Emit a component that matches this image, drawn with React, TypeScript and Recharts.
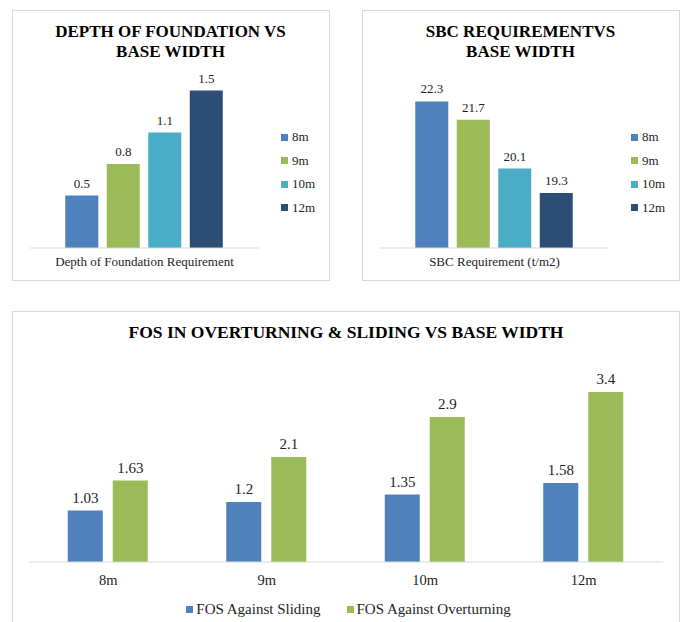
import React from 'react';
import { BarChart, Bar, XAxis, YAxis, LabelList, Legend } from 'recharts';

const sizeSeries = ['8m', '9m', '10m', '12m'];
const depthCategory = ['Depth of Foundation Requirement'];
const depthValues = [0.5, 0.8, 1.1, 1.5];
const sbcCategory = ['SBC Requirement (t/m2)'];
const sbcValues = [22.3, 21.7, 20.1, 19.3];
const fosCategories = ['8m', '9m', '10m', '12m'];
const fosSliding = [1.03, 1.2, 1.35, 1.58];
const fosOverturning = [1.63, 2.1, 2.9, 3.4];
const fosSeriesNames = ['FOS Against Sliding', 'FOS Against Overturning'];
const seriesColors = ['#4f81bd', '#9bbb59', '#4bacc6', '#2c4d75'];

const FONT = '"Liberation Serif"';
const TEXT = '#1e1e1e';
const BORDER = '#d9d9d9';

const buildSingle = (cats: string[], values: number[]) =>
  cats.map((name) => {
    const row: Record<string, any> = { name };
    sizeSeries.forEach((s, i) => {
      row[s] = values[i];
    });
    return row;
  });

const depthData = buildSingle(depthCategory, depthValues);
const sbcData = buildSingle(sbcCategory, sbcValues);
const fosData = fosCategories.map((name, i) => ({
  name,
  sliding: fosSliding[i],
  overturning: fosOverturning[i],
}));

const SideLegend = () => (
  <div style={{ width: 60, fontFamily: FONT, fontSize: 13, color: TEXT }}>
    {sizeSeries.map((s, i) => (
      <div key={s} style={{ height: 23.47, display: 'flex', alignItems: 'center' }}>
        <span
          style={{
            width: 7,
            height: 7,
            background: seriesColors[i],
            marginLeft: 22,
            marginRight: 4,
            display: 'inline-block',
          }}
        />
        <span>{s}</span>
      </div>
    ))}
  </div>
);

const BottomLegend = () => (
  <div
    style={{
      height: 20,
      display: 'flex',
      justifyContent: 'center',
      alignItems: 'center',
      paddingLeft: 5,
      fontFamily: FONT,
      fontSize: 15,
      color: TEXT,
    }}
  >
    {fosSeriesNames.map((s, i) => (
      <div key={s} style={{ display: 'flex', alignItems: 'center', marginRight: i === 0 ? 26 : 0 }}>
        <span
          style={{
            width: 7,
            height: 7,
            background: seriesColors[i],
            marginRight: 3,
            display: 'inline-block',
          }}
        />
        <span>{s}</span>
      </div>
    ))}
  </div>
);

const titleStyle = (left: number, top: number, width: number, size: number): React.CSSProperties => ({
  position: 'absolute',
  left,
  top,
  width,
  textAlign: 'center',
  fontFamily: FONT,
  fontWeight: 'bold',
  fontSize: size,
  lineHeight: '20px',
  color: '#000',
});

const boxStyle = (left: number, top: number, width: number, height: number): React.CSSProperties => ({
  position: 'absolute',
  left,
  top,
  width,
  height,
  border: `1px solid ${BORDER}`,
  boxSizing: 'border-box',
});

const SmallChart = ({ data, domain }: { data: any[]; domain: [number, number] }) => (
  <BarChart
    width={317}
    height={270}
    data={data}
    margin={{ top: 70, right: 10, bottom: 0, left: 18 }}
    barCategoryGap="15.4%"
    barGap={8.5}
    style={{ fontFamily: FONT }}
  >
    <XAxis
      dataKey="name"
      tickLine={false}
      axisLine={{ stroke: BORDER }}
      tick={{ fill: TEXT, fontSize: 13, fontFamily: FONT }}
      height={32}
      tickMargin={3}
    />
    <YAxis hide domain={domain} allowDataOverflow />
    <Legend
      layout="vertical"
      align="right"
      verticalAlign="middle"
      wrapperStyle={{ top: 115.6 }}
      content={() => <SideLegend />}
    />
    {sizeSeries.map((s, i) => (
      <Bar key={s} dataKey={s} fill={seriesColors[i]} isAnimationActive={false}>
        <LabelList dataKey={s} position="top" offset={8} fill={TEXT} fontSize={13} fontFamily={FONT} />
      </Bar>
    ))}
  </BarChart>
);

export default function App() {
  return (
    <div
      style={{
        position: 'absolute',
        left: 0,
        top: 0,
        width: 681,
        height: 622,
        overflow: 'hidden',
        background: '#fff',
        fontFamily: FONT,
      }}
    >
      <div style={boxStyle(12, 10, 318, 271)} />
      <div style={boxStyle(362, 10, 318, 271)} />
      <div style={boxStyle(12, 311, 668, 340)} />

      <div style={{ position: 'absolute', left: 12, top: 10 }}>
        <SmallChart data={depthData} domain={[0, 1.6]} />
      </div>
      <div style={{ position: 'absolute', left: 362, top: 10 }}>
        <SmallChart data={sbcData} domain={[17.5, 23]} />
      </div>

      <div style={titleStyle(12, 21.7, 317, 17)}>
        DEPTH OF FOUNDATION VS
        <br />
        BASE WIDTH
      </div>
      <div style={titleStyle(362, 21.7, 317, 17)}>
        SBC REQUIREMENTVS
        <br />
        BASE WIDTH
      </div>

      <div style={{ position: 'absolute', left: 0, top: 311 }}>
        <BarChart
          width={681}
          height={311}
          data={fosData}
          margin={{ top: 51, right: 18, bottom: 3, left: 29 }}
          barCategoryGap="24.45%"
          barGap={10}
          style={{ fontFamily: FONT }}
        >
          <XAxis
            dataKey="name"
            tickLine={false}
            axisLine={{ stroke: BORDER }}
            tick={{ fill: TEXT, fontSize: 14.5, fontFamily: FONT }}
            height={37}
            tickMargin={7}
          />
          <YAxis hide domain={[0, 4]} allowDataOverflow />
          <Legend verticalAlign="bottom" align="center" layout="horizontal" content={() => <BottomLegend />} />
          <Bar dataKey="sliding" fill={seriesColors[0]} isAnimationActive={false}>
            <LabelList dataKey="sliding" position="top" offset={8} fill={TEXT} fontSize={15} fontFamily={FONT} />
          </Bar>
          <Bar dataKey="overturning" fill={seriesColors[1]} isAnimationActive={false}>
            <LabelList dataKey="overturning" position="top" offset={8} fill={TEXT} fontSize={15} fontFamily={FONT} />
          </Bar>
        </BarChart>
      </div>
      <div style={titleStyle(12, 321.8, 668, 17.5)}>FOS IN OVERTURNING &amp; SLIDING VS BASE WIDTH</div>
    </div>
  );
}
